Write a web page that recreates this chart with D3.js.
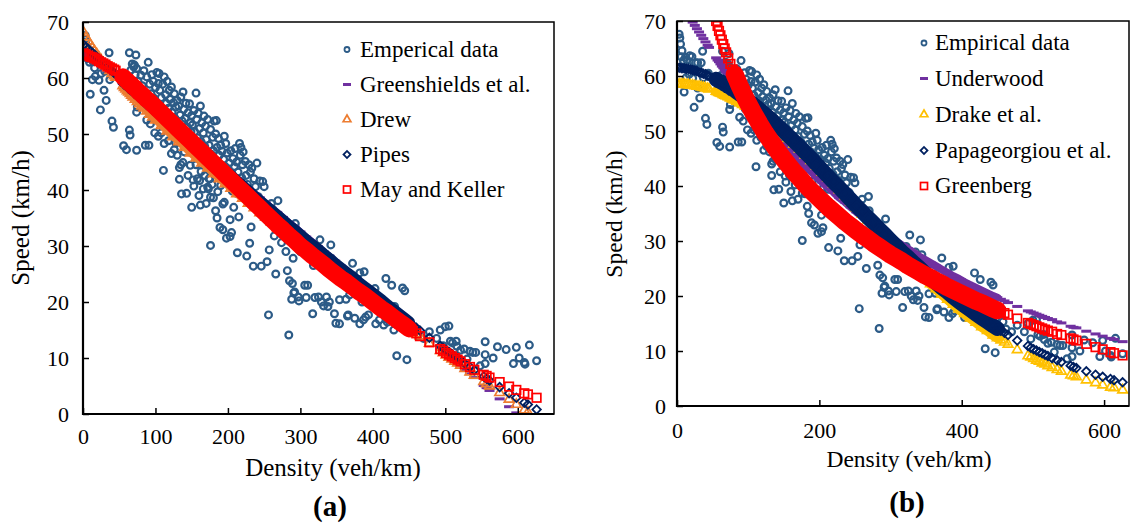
<!DOCTYPE html>
<html>
<head>
<meta charset="utf-8">
<script src="https://cdn.jsdelivr.net/npm/d3@7"></script>
<style>
  body { margin: 0; background: #fff; }
  svg { display: block; }
</style>
</head>
<body>
<svg id="fig" width="1131" height="523"></svg>
<script>
// measured points: [density veh/km, speed km/h]
const empirical = [
  [3,67.6],[4,66.9],[5,65.8],[7,64.6],[6,63.5],[9,62.8],[12,63.4],[14,62.9],[18,63.7],[21,63.5],
  [10,57.1],[13,59.7],[17,60.3],[22,59.6],[24,54.3],[26,62.4],[29,62.4],[29,57.8],[32,56.0],[34,62.4],
  [36,64.5],[37,59.7],[40,52.3],[42,51.2],[30,61.2],[44,60.5],[16,61.8],[25,60.8],
  [55,59.8],[56,47.9],[59,58.5],[60,47.2],[62,60.1],[64,50.7],[65,49.8],[64,64.5],[66,61.4],[68,62.5],
  [70,62.0],[71,62.3],[72,60.6],[73,64.1],[74,47.1],[74,61.7],[75,54.8],[74,53.9],[76,59.4],[78,57.8],
  [80,60.5],[82,58.6],[84,61.3],[86,48.0],[88,60.2],[90,62.8],[91,48.0],[92,58.9],[94,57.2],[95,60.6],
  [97,59.4],[98,56.4],[99,50.2],[100,58.3],[93,51.8],[96,54.0],[85,55.9],[80,57.0],[66,58.0],[70,56.6],[88,52.5],
  [102,61.0],[104,59.0],[105,60.8],[106,57.8],[108,56.5],[110,58.9],[111,43.5],[112,60.2],[114,57.0],[115,55.5],
  [116,59.4],[118,54.6],[119,57.8],[120,56.2],[122,58.4],[123,53.9],[125,55.6],[126,57.2],[127,52.8],[128,54.8],
  [130,56.0],[131,51.0],[132,55.0],[133,41.9],[134,53.4],[135,56.6],[136,39.3],[137,52.3],[138,57.5],[139,54.4],
  [140,50.6],[141,52.8],[142,55.5],[143,39.4],[144,51.2],[145,53.8],[146,49.6],[147,55.4],[148,52.0],[149,50.4],
  [150,36.9],[150,53.3],
  [104,49.6],[108,50.2],[112,48.3],[118,48.8],[122,46.5],[126,47.2],[130,46.2],[135,44.5],[138,44.9],[140,46.8],
  [145,42.6],[148,44.4],[153,40.7],[133,44.0],[128,48.4],[116,51.6],[110,51.5],
  [151,51.6],[152,48.8],[153,54.2],[154,50.4],[155,46.8],[156,57.3],[157,52.6],[158,49.3],[159,53.7],[160,47.2],
  [161,51.0],[162,37.3],[162,55.0],[163,48.6],[164,52.0],[165,45.8],[166,40.2],[166,50.2],[167,53.2],[168,47.8],
  [169,51.4],[170,37.6],[170,49.0],[171,45.2],[172,52.6],[173,40.2],[174,48.0],[175,42.0],[176,30.1],[176,38.7],
  [176,50.8],[177,46.4],[178,44.2],[179,49.4],[180,47.0],[181,52.3],[182,45.2],[183,36.3],[183,50.0],[184,52.4],
  [185,35.0],[185,47.6],[186,44.6],[187,49.2],[188,46.2],[189,33.3],[190,48.0],[191,43.6],[192,46.9],[193,32.9],
  [193,37.5],[194,45.5],[195,49.6],[196,44.2],[197,48.3],[198,31.4],[199,46.6],[200,43.8],
  [156,44.5],[158,42.0],[161,41.7],[163,43.3],[168,42.6],[172,40.5],[174,42.0],[178,41.0],[180,38.6],[186,39.7],
  [190,40.8],[195,37.8],[160,39.0],[152,41.8],
  [202,44.8],[203,34.7],[203,31.7],[204,47.0],[205,32.4],[206,42.8],[207,45.6],[208,36.9],[209,44.2],[210,47.4],
  [211,42.0],[212,45.0],[213,28.8],[214,43.2],[215,35.2],[216,48.3],[217,46.2],[218,47.6],[219,42.2],[220,44.5],
  [221,46.8],[222,40.4],[224,45.1],[225,42.6],[226,28.2],[227,41.0],[229,44.5],[230,30.5],[231,43.2],[232,33.4],
  [233,43.9],[234,39.2],[235,26.4],[236,42.0],[238,40.6],[240,44.8],[242,38.8],[244,41.6],[246,26.4],[248,41.5],
  [250,40.6],[250,37.4],[228,38.3],[212,39.4],[206,39.8],
  [254,27.2],[256,17.7],[257,29.3],[260,37.6],[262,35.0],[266,25.0],[269,38.1],[270,35.5],[272,34.2],[274,30.6],
  [275,32.0],[278,33.0],[282,25.6],[285,23.8],[288,20.5],[289,23.3],[290,27.8],[291,21.6],[292,21.8],[293,34.0],
  [284,14.1],[296,31.0],[297,20.9],[298,20.2],[300,29.0],[264,31.8],[280,29.0],
  [306,23.0],[308,20.8],[310,23.0],[314,28.2],[317,17.9],[320,20.8],[322,29.0],[325,20.9],[327,31.1],[329,20.0],
  [332,19.3],[336,20.9],[338,19.2],[340,20.0],[342,30.2],[344,27.5],[347,17.9],[349,16.2],[345,25.8],[335,28.0],[318,26.5],
  [354,20.4],[354,16.1],[358,23.5],[363,20.5],[365,17.5],[366,17.7],[368,21.3],[372,26.9],[375,17.1],[378,22.0],
  [382,25.2],[382,16.1],[385,20.0],[387,16.8],[388,25.4],[390,17.3],[392,21.6],[394,17.7],[396,20.0],[360,24.8],[370,22.4],
  [403,22.4],[404,16.1],[409,16.8],[412,18.6],[415,15.9],[418,24.2],[420,16.4],[424,18.0],[426,23.0],[429,15.0],
  [433,10.4],[436,16.8],[441,22.5],[444,22.0],[447,9.7],[448,16.0],[410,20.5],[430,19.2],
  [458,15.3],[462,14.0],[470,13.5],[478,14.7],[493,15.0],[500,15.6],[505,15.7],[507,13.0],[510,12.7],[515,13.0],
  [516,12.1],[521,11.4],[526,11.6],[530,9.8],[534,11.2],[538,11.0],[542,11.0],[548,8.6],[555,12.9],[555,10.6],
  [555,9.0],[566,10.0],[572,12.0],[584,11.5],[594,9.0],[598,11.9],[602,10.0],[609,9.2],[610,8.9],[616,12.3],
  [626,9.5],[497,12.2],[488,13.5]
];

// densities at which the fitted models are plotted
const modelK = [
  1,4,7,10,13,16,19,22,25,28,31,34,37,40,43,45,
  55,57,59,61,63,65,67,69,72,75,78,81,84,88,92,96,100,
  108,116,124,132,140,148,156,164,172,180,188,196,204,212,220,228,236,244,252,260,268,276,284,292,300,
  308,316,324,332,340,348,356,364,372,380,388,396,404,412,420,428,436,444,450,
  455,460,465,478,493,497,501,505,509,513,517,521,527,534,540,553,557,561,575,588,598,609,614,626
];

// (a) models
const greenshields = [
  64.9,64.6,64.2,63.9,63.6,63.3,62.9,62.6,62.3,62.0,61.6,61.3,61.0,60.7,60.3,60.1,
  59.0,58.8,58.6,58.4,58.2,58.0,57.7,57.5,57.2,56.9,56.6,56.2,55.9,55.5,55.0,54.6,54.2,
  53.3,52.4,51.6,50.7,49.8,49.0,48.1,47.2,46.4,45.5,44.6,43.8,42.9,42.0,41.2,40.3,39.4,38.6,37.7,36.8,36.0,35.1,34.2,33.4,32.5,
  31.6,30.8,29.9,29.0,28.2,27.3,26.4,25.6,24.7,23.8,23.0,22.1,21.2,20.4,19.5,18.6,17.8,16.9,16.3,
  15.7,15.2,14.6,13.2,11.6,11.2,10.7,10.3,9.9,9.4,9.0,8.6,7.9,7.2,6.5,5.1,4.7,4.2,2.7,1.3,0.2,null,null,null
];
const drew = [
  68.1,67.3,66.6,66.0,65.4,64.8,64.3,63.7,63.2,62.7,62.2,61.8,61.3,60.8,60.4,60.1,
  58.6,58.3,58.0,57.7,57.5,57.2,56.9,56.6,56.2,55.8,55.4,55.0,54.6,54.1,53.5,53.0,52.5,
  51.5,50.5,49.5,48.6,47.6,46.6,45.7,44.8,43.9,42.9,42.0,41.1,40.3,39.3,38.5,37.6,36.8,35.9,35.1,34.2,33.3,32.5,31.7,30.8,30.0,
  29.2,28.4,27.6,26.8,26.0,25.2,24.4,23.6,22.8,22.0,21.2,20.5,19.7,18.9,18.2,17.4,16.6,15.8,15.3,
  14.8,14.3,13.9,12.6,11.3,10.9,10.5,10.1,9.8,9.4,9.1,8.7,8.1,7.5,6.9,5.8,5.4,5.0,3.8,2.6,1.7,0.7,0.3,null
];
const pipes = [
  65.9,65.5,65.2,64.8,64.5,64.1,63.8,63.4,63.1,62.7,62.3,62.0,61.6,61.3,60.9,60.7,
  59.5,59.3,59.1,58.8,58.6,58.4,58.1,57.9,57.6,57.2,56.9,56.5,56.2,55.7,55.2,54.8,54.3,
  53.4,52.5,51.5,50.6,49.7,48.8,47.9,47.0,46.1,45.2,44.2,43.3,42.5,41.6,40.7,39.8,38.9,38.0,37.1,36.3,35.4,34.5,33.6,32.8,31.9,
  31.0,30.2,29.4,28.5,27.7,26.8,26.0,25.2,24.4,23.5,22.7,21.9,21.1,20.3,19.4,18.6,17.8,17.0,16.4,
  15.9,15.4,14.9,13.6,12.2,11.8,11.4,11.1,10.7,10.3,10.0,9.6,9.0,8.4,7.8,6.7,6.3,6.0,4.8,3.7,2.9,2.0,1.7,0.8
];
const mayKeller = [
  64.4,64.2,64.0,63.8,63.7,63.5,63.3,63.0,62.8,62.6,62.4,62.1,61.9,61.7,61.5,61.3,
  60.2,60.0,59.7,59.5,59.2,59.0,58.8,58.5,58.2,57.8,57.4,57.1,56.7,56.2,55.8,55.3,54.8,
  53.8,52.8,51.8,50.8,49.8,48.8,47.8,46.8,45.8,44.8,43.8,42.8,41.8,40.8,39.8,38.8,37.8,36.8,35.8,34.8,33.8,32.9,31.9,31.0,30.0,
  29.2,28.3,27.5,26.7,25.8,25.0,24.2,23.5,22.7,21.9,21.2,20.4,19.6,18.8,18.1,17.3,16.5,15.8,15.2,
  14.8,14.4,13.9,12.8,11.6,11.3,10.9,10.6,10.3,10.0,9.7,9.4,8.9,8.4,7.9,7.0,6.8,6.5,5.7,4.9,4.3,3.7,3.5,2.9
];

// (b) models
const underwood = [
  null,null,null,null,null,null,70.4,69.8,69.2,68.6,68.0,67.4,66.8,66.2,65.6,65.2,
  63.3,62.9,62.6,62.2,61.8,61.5,61.1,60.7,60.2,59.7,59.1,58.6,58.1,57.4,56.7,56.1,55.4,
  54.1,52.9,51.6,50.4,49.2,48.1,47.0,45.9,44.8,43.7,42.7,41.7,40.7,39.8,38.9,37.9,37.1,36.2,35.3,34.5,33.7,32.9,32.2,31.4,30.7,
  29.9,29.2,28.6,27.9,27.2,26.6,26.0,25.4,24.8,24.2,23.6,23.1,22.5,22.0,21.5,21.0,20.5,20.0,19.7,
  19.4,19.1,18.8,18.1,17.3,17.1,16.9,16.7,16.5,16.3,16.1,15.9,15.7,15.3,15.1,14.5,14.3,14.2,13.6,13.1,12.7,12.3,12.1,11.7
];
const drake = [
  58.5,58.5,58.5,58.5,58.4,58.4,58.3,58.3,58.2,58.1,58.1,58.0,57.9,57.8,57.7,57.6,
  57.2,57.1,57.0,56.9,56.8,56.6,56.5,56.4,56.2,56.0,55.8,55.6,55.4,55.1,54.8,54.5,54.2,
  53.5,52.8,52.0,51.2,50.4,49.5,48.6,47.6,46.7,45.6,44.6,43.6,42.5,41.5,40.4,39.3,38.2,37.1,36.0,34.9,33.8,32.7,31.6,30.5,29.4,
  28.3,27.3,26.2,25.2,24.2,23.2,22.2,21.3,20.3,19.4,18.5,17.6,16.8,16.0,15.2,14.4,13.7,12.9,12.4,
  12.0,11.6,11.2,10.2,9.1,8.9,8.6,8.3,8.1,7.8,7.6,7.3,7.0,6.6,6.3,5.6,5.5,5.3,4.7,4.2,3.8,3.4,3.3,2.9
];
const papageorgiou = [
  61.5,61.5,61.4,61.4,61.3,61.3,61.2,61.1,61.0,60.9,60.7,60.6,60.4,60.3,60.1,60.0,
  59.4,59.2,59.1,59.0,58.8,58.7,58.5,58.4,58.1,57.9,57.6,57.4,57.1,56.7,56.4,56.0,55.6,
  54.8,53.9,53.0,52.1,51.1,50.2,49.2,48.2,47.2,46.1,45.1,44.0,42.9,41.8,40.7,39.7,38.6,37.5,36.4,35.4,34.3,33.3,32.2,31.2,30.1,
  29.1,28.0,27.1,26.1,25.2,24.2,23.3,22.4,21.5,20.7,19.8,19.0,18.2,17.5,16.7,16.0,15.3,14.6,14.1,
  13.7,13.3,12.9,11.9,10.9,10.6,10.3,10.1,9.8,9.6,9.3,9.1,8.7,8.3,8.0,7.3,7.1,6.9,6.3,5.7,5.3,4.9,4.7,4.3
];
const greenberg = [
  null,null,null,null,null,null,null,null,null,null,null,null,null,null,null,null,
  70.0,69.1,68.2,67.4,66.6,65.8,65.0,64.3,63.2,62.2,61.2,60.3,59.4,58.2,57.1,56.0,55.0,
  53.1,51.3,49.6,48.1,46.6,45.2,43.9,42.6,41.5,40.3,39.2,38.2,37.2,36.2,35.3,34.4,33.5,32.7,31.9,31.1,30.4,29.6,28.9,28.2,27.5,
  26.9,26.3,25.6,25.0,24.4,23.8,23.3,22.7,22.2,21.6,21.1,20.6,20.1,19.6,19.1,18.7,18.2,17.7,17.4,
  17.1,16.9,16.6,15.9,15.1,14.9,14.7,14.5,14.3,14.1,13.9,13.7,13.5,13.1,12.9,12.3,12.1,11.9,11.3,10.7,10.3,9.8,9.6,9.2
];

const speedTicks = [0, 10, 20, 30, 40, 50, 60, 70];
const densityTicksA = [0, 100, 200, 300, 400, 500, 600];
const densityTicksB = [0, 200, 400, 600];
const namesA = ["Emperical data", "Greenshields et al.", "Drew", "Pipes", "May and Keller"];
const namesB = ["Empirical data", "Underwood", "Drake et al.", "Papageorgiou et al.", "Greenberg"];

const BLUE = "#2c5b87", PURPLE = "#7030a0", ORANGE = "#ed7d31", NAVY = "#002060",
      RED = "#ff0000", YELLOW = "#ffc000";
const SERIF = "'Liberation Serif', 'Times New Roman', 'DejaVu Serif', serif";

const svg = d3.select("#fig").style("font-family", SERIF);

const panels = [
  {
    id: "a", left: 83, right: 554, top: 22, bottom: 414, kMax: 650, ticks: densityTicksA,
    xPad: 14.5, yPad: 14, tickFont: 22, titleFont: 25,
    xTitle: [333, 476], yTitle: [28.5, 218], label: [330, 516],
    legend: { x: 347, tx: 360, rows: [49.5, 84.5, 119.5, 154.5, 189.5] },
    names: namesA,
    series: [
      { values: greenshields, shape: "dash", color: PURPLE, band: 7, from: 55 },
      { values: drew, shape: "triangle", color: ORANGE, band: 7, from: 55 },
      { values: pipes, shape: "diamond", color: NAVY, band: 12, from: 55 },
      { values: mayKeller, shape: "square", color: RED, band: 17, from: 55 }
    ]
  },
  {
    id: "b", left: 677, right: 1129, top: 21, bottom: 406, kMax: 635, ticks: densityTicksB,
    xPad: 16, yPad: 11, tickFont: 22, titleFont: 23.5,
    xTitle: [909, 467], yTitle: [621.5, 214], label: [907, 512],
    legend: { x: 924, tx: 935, rows: [43, 78.5, 114.5, 150.5, 186] },
    names: namesB,
    series: [
      { values: underwood, shape: "dash", color: PURPLE, band: 8, from: 72 },
      { values: drake, shape: "triangle", color: YELLOW, band: 10, from: 55 },
      { values: papageorgiou, shape: "diamond", color: NAVY, band: 15, from: 55 },
      { values: greenberg, shape: "square", color: RED, band: 18, from: 81 }
    ]
  }
];

function marker(sel, shape, color, small) {
  const k = small ? 0.8 : 1;
  if (shape === "circle") {
    sel.append("circle").attr("r", small ? 2.5 : 3.4).attr("fill", "none")
      .attr("stroke", color).attr("stroke-width", small ? 1.8 : 2.2);
  } else if (shape === "dash") {
    sel.append("rect").attr("x", -5 * k).attr("y", -1.5).attr("width", 10 * k).attr("height", 3)
      .attr("fill", color);
  } else if (shape === "triangle") {
    sel.append("path").attr("d", d3.symbol(d3.symbolTriangle, small ? 26 : 40)())
      .attr("fill", "none").attr("stroke", color).attr("stroke-width", 1.7);
  } else if (shape === "diamond") {
    sel.append("path").attr("d", d3.symbol(d3.symbolSquare, small ? 24 : 36)())
      .attr("transform", "rotate(45)")
      .attr("fill", "none").attr("stroke", color).attr("stroke-width", 1.8);
  } else if (shape === "square") {
    const s = small ? 7 : 8.5;
    sel.append("rect").attr("x", -s / 2).attr("y", -s / 2).attr("width", s).attr("height", s)
      .attr("fill", "none").attr("stroke", color).attr("stroke-width", 1.7);
  }
}

panels.forEach(p => {
  const x = d3.scaleLinear().domain([0, p.kMax]).range([p.left, p.right]);
  const y = d3.scaleLinear().domain([0, 70]).range([p.bottom, p.top]);

  svg.append("clipPath").attr("id", "clip-" + p.id).append("rect")
    .attr("x", p.left).attr("y", p.top)
    .attr("width", p.right - p.left).attr("height", p.bottom - p.top);

  const plot = svg.append("g").attr("clip-path", `url(#clip-${p.id})`);

  // empirical scatter first, models on top in legend order
  plot.append("g").selectAll("g")
    .data(empirical.filter(d => d[0] <= p.kMax))
    .join("g")
      .attr("transform", d => `translate(${x(d[0])},${y(d[1])})`)
      .each(function() { marker(d3.select(this), "circle", BLUE, false); });

  const line = d3.line().x(d => x(d[0])).y(d => y(d[1]));

  p.series.forEach(s => {
    const pts = modelK.map((k, i) => [k, s.values[i]]).filter(d => d[1] !== null);
    const dense = pts.filter(d => d[0] >= s.from && d[0] <= 450);
    plot.append("path").datum(dense)
      .attr("d", line)
      .attr("fill", "none")
      .attr("stroke", s.color)
      .attr("stroke-width", s.band)
      .attr("stroke-linejoin", "round")
      .attr("stroke-linecap", "round");
    plot.append("g").selectAll("g")
      .data(pts)
      .join("g")
        .attr("transform", d => `translate(${x(d[0])},${y(d[1])})`)
        .each(function() { marker(d3.select(this), s.shape, s.color, false); });
  });

  // axes (ticks point inward)
  const xAxis = svg.append("g")
    .attr("transform", `translate(0,${p.bottom})`)
    .call(d3.axisBottom(x).tickValues(p.ticks).tickSize(-6).tickPadding(p.xPad).tickFormat(d3.format("d")));
  const yAxis = svg.append("g")
    .attr("transform", `translate(${p.left},0)`)
    .call(d3.axisLeft(y).tickValues(speedTicks).tickSize(-6).tickPadding(p.yPad).tickFormat(d3.format("d")));
  [xAxis, yAxis].forEach(a => {
    a.select(".domain").remove();
    a.attr("font-family", SERIF).attr("font-size", p.tickFont);
    a.selectAll("line").attr("stroke", "#000").attr("stroke-width", 1.5);
    a.selectAll("text").attr("fill", "#000").style("font-family", SERIF).style("font-size", p.tickFont + "px");
  });

  // frame
  svg.append("rect")
    .attr("x", p.left).attr("y", p.top)
    .attr("width", p.right - p.left).attr("height", p.bottom - p.top)
    .attr("fill", "none").attr("stroke", "#000").attr("stroke-width", 1.5);
  svg.append("path")
    .attr("d", `M${p.left},${p.top}V${p.bottom}H${p.right}`)
    .attr("fill", "none").attr("stroke", "#000").attr("stroke-width", 2.2);

  // titles
  svg.append("text")
    .attr("x", p.xTitle[0]).attr("y", p.xTitle[1])
    .attr("text-anchor", "middle").style("font-family", SERIF).style("font-size", p.titleFont + "px")
    .text("Density (veh/km)");
  svg.append("text")
    .attr("transform", `translate(${p.yTitle[0]},${p.yTitle[1]}) rotate(-90)`)
    .attr("text-anchor", "middle").style("font-family", SERIF).style("font-size", p.titleFont + "px")
    .text("Speed (km/h)");
  svg.append("text")
    .attr("x", p.label[0]).attr("y", p.label[1])
    .attr("text-anchor", "middle").style("font-family", SERIF)
    .style("font-size", "29px").style("font-weight", "bold")
    .text(`(${p.id})`);

  // legend
  const shapes = ["circle"].concat(p.series.map(s => s.shape));
  const colors = [BLUE].concat(p.series.map(s => s.color));
  const lg = svg.append("g");
  p.names.forEach((name, i) => {
    const row = lg.append("g");
    const m = row.append("g").attr("transform", `translate(${p.legend.x},${p.legend.rows[i]})`);
    marker(m, shapes[i], colors[i], true);
    row.append("text")
      .attr("x", p.legend.tx).attr("y", p.legend.rows[i] + 7)
      .style("font-family", SERIF).style("font-size", "23px")
      .text(name);
  });
});
</script>
</body>
</html>
